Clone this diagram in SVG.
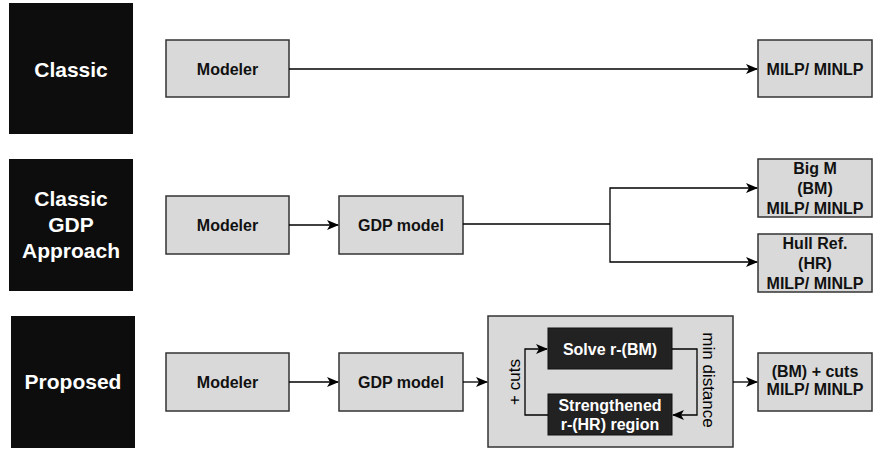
<svg xmlns="http://www.w3.org/2000/svg" width="873" height="451" viewBox="0 0 873 451">
<defs>
<style>
.lbl{fill:#0d0d0d}
.lt{fill:#fff;font-family:"Liberation Sans",Arial,sans-serif;font-weight:bold;font-size:21px;text-anchor:middle}
.box{fill:#d9d9d9;stroke:#333;stroke-width:1.5}
.dark{fill:#222;stroke:#111;stroke-width:1}
.t{fill:#111;font-family:"Liberation Sans",Arial,sans-serif;font-weight:bold;font-size:16px;text-anchor:middle}
.tw{fill:#fff;font-family:"Liberation Sans",Arial,sans-serif;font-weight:bold;font-size:16px;text-anchor:middle}
.tr{fill:#000;font-family:"Liberation Sans",Arial,sans-serif;font-size:17px;text-anchor:middle}
.c{fill:none;stroke:#000;stroke-width:1.3}
</style>
<marker id="ah" viewBox="0 0 12 10" refX="11" refY="5" markerWidth="12" markerHeight="10" markerUnits="userSpaceOnUse" orient="auto">
<path d="M0,0 L12,5 L0,10 L3,5 Z" fill="#000"/>
</marker>
</defs>
<rect width="873" height="451" fill="#fff"/>

<g id="label-classic"><rect class="lbl" x="9" y="3" width="124" height="131"/><text class="lt" x="71" y="77">Classic</text></g>
<g id="label-gdp"><rect class="lbl" x="9" y="159" width="124" height="132"/><text class="lt" x="71" y="206">Classic</text><text class="lt" x="71" y="232">GDP</text><text class="lt" x="71" y="258">Approach</text></g>
<g id="label-proposed"><rect class="lbl" x="11" y="316" width="124" height="132"/><text class="lt" x="73" y="389">Proposed</text></g>

<g id="modeler1"><rect class="box" x="166" y="40" width="123" height="57"/><text class="t" x="227.5" y="75">Modeler</text></g>
<g id="milp1"><rect class="box" x="758" y="40" width="114" height="57"/><text class="t" x="815" y="75">MILP/ MINLP</text></g>

<g id="modeler2"><rect class="box" x="166" y="196" width="123" height="58"/><text class="t" x="227.5" y="231">Modeler</text></g>
<g id="gdp2"><rect class="box" x="339" y="196" width="124" height="58"/><text class="t" x="401" y="231">GDP model</text></g>
<g id="bigm"><rect class="box" x="758" y="159" width="114" height="58"/><text class="t" x="815" y="174">Big M</text><text class="t" x="815" y="194">(BM)</text><text class="t" x="815" y="214">MILP/ MINLP</text></g>
<g id="hull"><rect class="box" x="758" y="234" width="114" height="58"/><text class="t" x="815" y="249">Hull Ref.</text><text class="t" x="815" y="269">(HR)</text><text class="t" x="815" y="289">MILP/ MINLP</text></g>

<g id="modeler3"><rect class="box" x="166" y="353" width="123" height="58"/><text class="t" x="227.5" y="388">Modeler</text></g>
<g id="gdp3"><rect class="box" x="339" y="353" width="124" height="58"/><text class="t" x="401" y="388">GDP model</text></g>
<g id="proc"><rect class="box" x="488" y="316" width="245" height="131"/>
<text class="tr" transform="translate(520,382) rotate(-90)">+ cuts</text>
<text class="tr" transform="translate(703,380) rotate(90)">min distance</text></g>
<g id="solve"><rect class="dark" x="548" y="328" width="124" height="41"/><text class="tw" x="610" y="355">Solve r-(BM)</text></g>
<g id="strength"><rect class="dark" x="548" y="394" width="124" height="41"/><text class="tw" x="610" y="411">Strengthened</text><text class="tw" x="610" y="430">r-(HR) region</text></g>
<g id="out"><rect class="box" x="758" y="353" width="114" height="58"/><text class="t" x="815" y="377">(BM) + cuts</text><text class="t" x="815" y="395">MILP/ MINLP</text></g>

<g id="connectors">
<path class="c" d="M289,69 H757" marker-end="url(#ah)"/>
<path class="c" d="M289,225 H338" marker-end="url(#ah)"/>
<path class="c" d="M463,224 H610"/>
<path class="c" d="M610,224 V188 H757" marker-end="url(#ah)"/>
<path class="c" d="M610,224 V262 H757" marker-end="url(#ah)"/>
<path class="c" d="M289,382 H338" marker-end="url(#ah)"/>
<path class="c" d="M463,382 H487" marker-end="url(#ah)"/>
<path class="c" d="M733,382 H757" marker-end="url(#ah)"/>
<path class="c" d="M672,349 H697 V415 H673" marker-end="url(#ah)"/>
<path class="c" d="M548,415 H525 V349 H547" marker-end="url(#ah)"/>
</g>
</svg>
